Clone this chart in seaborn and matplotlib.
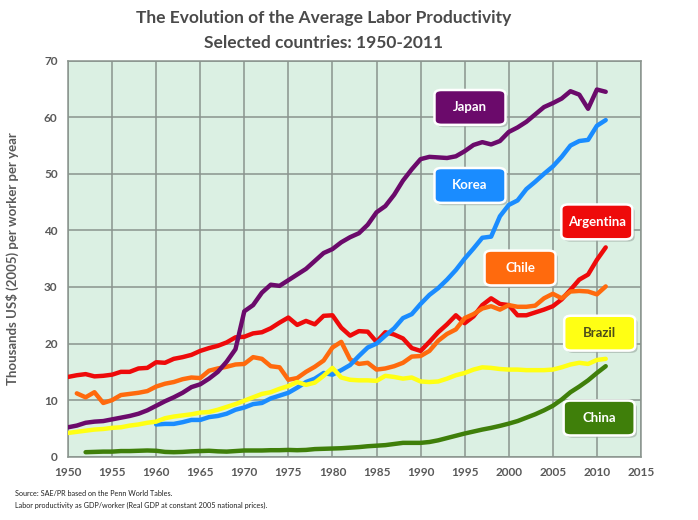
import numpy as np
import pandas as pd
import matplotlib
matplotlib.use("Agg")
import matplotlib.pyplot as plt
from matplotlib.patches import FancyBboxPatch
import seaborn as sns

# Labor productivity, thousands US$ (2005) per worker per year
japan_years = list(range(1950, 2012))
japan = [5.2, 5.5, 6.0, 6.2, 6.3, 6.6, 6.9, 7.2, 7.6, 8.2,
         9.0, 9.8, 10.5, 11.3, 12.3, 12.8, 13.8, 15.0, 16.8, 19.0,
         25.7, 26.8, 29.0, 30.4, 30.2, 31.2, 32.2, 33.2, 34.6, 36.0,
         36.7, 37.9, 38.8, 39.5, 41.0, 43.2, 44.3, 46.3, 48.8, 50.8,
         52.6, 53.0, 52.9, 52.8, 53.1, 54.0, 55.1, 55.6, 55.2, 55.8,
         57.4, 58.2, 59.2, 60.5, 61.8, 62.5, 63.3, 64.6, 64.0, 61.5,
         64.9, 64.5]

korea_years = list(range(1960, 2012))
korea = [5.7, 5.8, 5.8, 6.1, 6.5, 6.5, 7.0, 7.2, 7.6, 8.3,
         8.7, 9.3, 9.5, 10.3, 10.8, 11.3, 12.2, 13.2, 13.8, 14.8,
         14.5, 15.3, 16.2, 17.8, 19.3, 20.0, 21.4, 22.7, 24.5, 25.2,
         27.0, 28.6, 29.8, 31.3, 33.0, 35.0, 36.8, 38.7, 38.9, 42.5,
         44.5, 45.3, 47.3, 48.6, 50.0, 51.3, 53.0, 55.0, 55.8, 56.0,
         58.5, 59.5]

argentina_years = list(range(1950, 2012))
argentina = [14.1, 14.4, 14.6, 14.2, 14.3, 14.5, 15.0, 15.0, 15.6, 15.7,
             16.7, 16.6, 17.3, 17.6, 18.0, 18.7, 19.2, 19.6, 20.2, 21.1,
             21.2, 21.8, 22.0, 22.7, 23.7, 24.6, 23.3, 24.0, 23.4, 24.9,
             25.0, 22.8, 21.4, 22.2, 22.1, 20.3, 22.0, 21.6, 20.9, 19.2,
             18.7, 20.3, 22.0, 23.4, 25.0, 23.6, 24.8, 26.8, 28.0, 27.0,
             26.8, 25.0, 25.0, 25.5, 26.0, 26.6, 27.8, 29.5, 31.3, 32.2,
             34.8, 37.0]

chile_years = list(range(1951, 2012))
chile = [11.2, 10.5, 11.4, 9.5, 10.0, 10.9, 11.1, 11.3, 11.6,
         12.4, 12.9, 13.2, 13.7, 14.0, 13.9, 15.2, 15.6, 15.9, 16.3,
         16.4, 17.6, 17.3, 16.0, 15.8, 13.6, 13.9, 15.0, 15.9, 17.0,
         19.3, 20.3, 17.2, 16.4, 16.6, 15.4, 15.6, 16.0, 16.6, 17.7,
         17.8, 18.7, 20.5, 21.7, 22.5, 24.5, 25.2, 26.2, 26.6, 26.0,
         26.8, 26.5, 26.5, 26.7, 28.0, 28.8, 28.0, 29.2, 29.3, 29.2,
         28.7, 30.1]

brazil_years = list(range(1950, 2012))
brazil = [4.2, 4.4, 4.6, 4.8, 4.9, 5.1, 5.2, 5.5, 5.7, 6.0,
          6.2, 6.8, 7.1, 7.3, 7.5, 7.8, 7.9, 8.3, 8.8, 9.3,
          9.9, 10.5, 11.1, 11.4, 12.0, 12.5, 13.2, 12.7, 13.1, 14.3,
          15.7, 14.0, 13.6, 13.5, 13.5, 13.4, 14.3, 14.1, 13.8, 14.0,
          13.3, 13.2, 13.3, 13.8, 14.4, 14.8, 15.4, 15.8, 15.7, 15.5,
          15.4, 15.4, 15.3, 15.3, 15.3, 15.4, 15.8, 16.3, 16.6, 16.4,
          17.1, 17.3]

china_years = list(range(1952, 2012))
china = [0.8, 0.85, 0.9, 0.9, 1.0, 1.0, 1.05, 1.1,
         1.05, 0.85, 0.8, 0.85, 0.95, 1.0, 1.05, 0.95, 0.9, 1.0,
         1.1, 1.1, 1.1, 1.15, 1.15, 1.2, 1.15, 1.2, 1.35, 1.4,
         1.45, 1.5, 1.6, 1.7, 1.85, 1.95, 2.05, 2.25, 2.45, 2.45,
         2.45, 2.6, 2.9, 3.3, 3.7, 4.1, 4.45, 4.8, 5.1, 5.45,
         5.85, 6.3, 6.9, 7.5, 8.2, 9.0, 10.1, 11.4, 12.4, 13.5,
         14.8, 16.0]

countries = ["Argentina", "Chile", "Korea", "Brazil", "Japan", "China"]
colors = {"Japan": "#6b0a6b", "Korea": "#1a8cff", "Argentina": "#ee0a0a",
          "Chile": "#ff6a0d", "Brazil": "#ffff14", "China": "#3f7f0a"}
box_text = {"Japan": "white", "Korea": "white", "Argentina": "white",
            "Chile": "white", "Brazil": "#4d4d1a", "China": "white"}

series = {"Japan": (japan_years, japan), "Korea": (korea_years, korea),
          "Argentina": (argentina_years, argentina), "Chile": (chile_years, chile),
          "Brazil": (brazil_years, brazil), "China": (china_years, china)}

frames = []
for name, (yrs, vals) in series.items():
    frames.append(pd.DataFrame({"year": yrs, "value": vals, "country": name}))
df = pd.concat(frames, ignore_index=True)

sns.set_style("white")
plt.rcParams["font.family"] = ["Lato", "DejaVu Sans"]

fig = plt.figure(figsize=(6.98, 5.2), dpi=100)
ax = fig.add_axes([0.0974, 0.1217, 0.8209, 0.7616])
ax.set_facecolor("#dbf0e3")

sns.lineplot(data=df, x="year", y="value", hue="country", hue_order=countries,
             palette=colors, linewidth=3.2, legend=False, ax=ax, zorder=3)

ax.set_xlim(1950, 2015)
ax.set_ylim(0, 70)
ax.set_xticks(range(1950, 2016, 5))
ax.set_yticks(range(0, 71, 10))
ax.grid(True, color="#8a948e", linewidth=1.1)
ax.set_axisbelow(True)
for side in ax.spines.values():
    side.set_color("#8a948e")
    side.set_linewidth(1.1)
ax.tick_params(axis="both", length=4, color="#8a948e", labelsize=8.5,
               labelcolor="#595959")
for lbl in ax.get_xticklabels() + ax.get_yticklabels():
    lbl.set_fontweight("bold")
ax.set_xlabel("")
ax.set_ylabel("Thousands US$ (2005) per worker per year", fontsize=9.5,
              fontweight="bold", color="#595959", labelpad=18)

# title, two lines
fig.text(0.464, 0.956, "The Evolution of the Average Labor Productivity",
         ha="center", va="baseline", fontsize=12.5, fontweight="bold", color="#4a4a4a")
fig.text(0.464, 0.908, "Selected countries: 1950-2011",
         ha="center", va="baseline", fontsize=12.5, fontweight="bold", color="#4a4a4a")

# label boxes (centre in axes fraction)
label_pos = {"Japan": (0.7016, 0.882), "Korea": (0.7016, 0.685),
             "Argentina": (0.923, 0.593), "Chile": (0.789, 0.4765),
             "Brazil": (0.928, 0.312), "China": (0.927, 0.0977)}
bw, bh = 0.124, 0.088
for name, (cx, cy) in label_pos.items():
    shadow = FancyBboxPatch((cx - bw / 2 + 0.004, cy - bh / 2 - 0.006), bw, bh,
                            boxstyle="round,pad=0,rounding_size=0.012",
                            transform=ax.transAxes, fc="#9aa8a0", ec="none",
                            alpha=0.6, zorder=5)
    box = FancyBboxPatch((cx - bw / 2, cy - bh / 2), bw, bh,
                         boxstyle="round,pad=0,rounding_size=0.012",
                         transform=ax.transAxes, fc=colors[name], ec="white",
                         lw=1.8, zorder=6)
    ax.add_patch(shadow)
    ax.add_patch(box)
    ax.text(cx, cy, name, transform=ax.transAxes, ha="center", va="center",
            fontsize=9.5, fontweight="bold", color=box_text[name], zorder=7)

fig.text(0.022, 0.047, "Source: SAE/PR based on the Penn World Tables.",
         fontsize=5.2, color="#222222")
fig.text(0.022, 0.023, "Labor productivity as GDP/worker (Real GDP at constant 2005 national prices).",
         fontsize=5.2, color="#222222")

fig.savefig("out.png", dpi=100)
